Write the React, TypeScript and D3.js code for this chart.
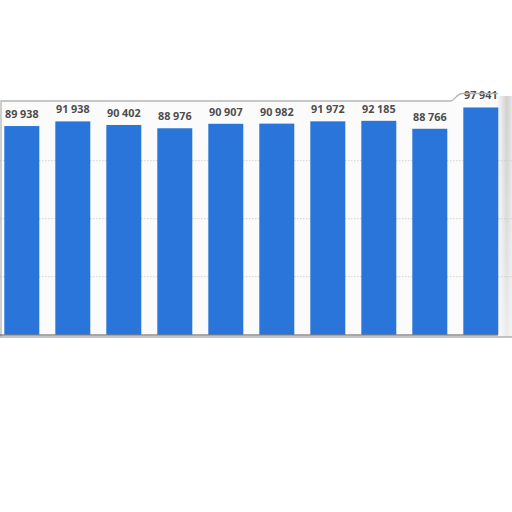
import React from "react";
import * as d3 from "d3";

const categories = ["1", "2", "3", "4", "5", "6", "7", "8", "9", "10"];
const values = [89938, 91938, 90402, 88976, 90907, 90982, 91972, 92185, 88766, 97941];
const labels = ["89 938", "91 938", "90 402", "88 976", "90 907", "90 982", "91 972", "92 185", "88 766", "97 941"];
const gridTicks = [25000, 50000, 75000];

export default function App() {
  const W = 512;
  const H = 512;
  const x = d3
    .scaleBand<string>()
    .domain(categories)
    .range([-3.7, 506.3])
    .paddingInner(0.314)
    .paddingOuter(0.157);
  const y = d3.scaleLinear().domain([0, 100000]).range([334.7, 102.7]);
  const fmt = (i: number) => labels[i];

  return (
    <svg
      width={W}
      height={H}
      style={{ position: "absolute", left: 0, top: 0, background: "#fff" }}
      fontFamily="'Open Sans', 'DejaVu Sans', sans-serif"
    >
      <defs>
        <linearGradient id="rshade" x1="0" x2="1" y1="0" y2="0">
          <stop offset="0" stopColor="#fbfbfb" />
          <stop offset="0.35" stopColor="#e4e4e4" />
          <stop offset="0.65" stopColor="#cfcfcf" />
          <stop offset="1" stopColor="#e6e6e6" />
        </linearGradient>
        <linearGradient id="vshade" x1="0" x2="0" y1="0" y2="1">
          <stop offset="0" stopColor="#ffffff" stopOpacity="0" />
          <stop offset="0.4" stopColor="#ffffff" stopOpacity="0.2" />
          <stop offset="1" stopColor="#ffffff" stopOpacity="0.6" />
        </linearGradient>
      </defs>
      {/* plot background */}
      <rect x={1} y={101} width={497} height={235} fill="#fbfbfb" />
      {/* right curl shade */}
      <rect x={497} y={96} width={15} height={241} fill="url(#rshade)" />
      <rect x={497} y={96} width={15} height={241} fill="url(#vshade)" />
      {/* gridlines */}
      {gridTicks.map((t) => (
        <line
          key={t}
          x1={0}
          x2={512}
          y1={y(t)}
          y2={y(t)}
          stroke="#c8c8c8"
          strokeWidth={0.8}
          strokeDasharray="1.5,1.5"
        />
      ))}
      {/* bars */}
      {values.map((v, i) => (
        <rect
          key={i}
          x={x(categories[i])}
          y={y(v)}
          width={x.bandwidth()}
          height={y(0) - y(v)}
          fill="#2a75d9"
        />
      ))}
      {/* value labels */}
      {values.map((v, i) => (
        <text
          key={"l" + i}
          x={(x(categories[i]) as number) + x.bandwidth() / 2}
          y={y(v) - 8}
          textAnchor="middle"
          fontSize={10.8}
          fontWeight="bold"
          fill="#4d4d4d"
        >
          {fmt(i)}
        </text>
      ))}
      {/* frame */}
      <path
        d="M1,337 L1,101 L450,101 C455,101 456,94 462,93.5 L498,93.5"
        fill="none"
        stroke="#b5b5b5"
        strokeWidth={1.3}
      />
      <line x1={0} x2={498} y1={335} y2={335} stroke="#555" strokeWidth={1} />
      <line x1={0} x2={512} y1={337} y2={337} stroke="#b0b0b0" strokeWidth={1.5} />
    </svg>
  );
}
